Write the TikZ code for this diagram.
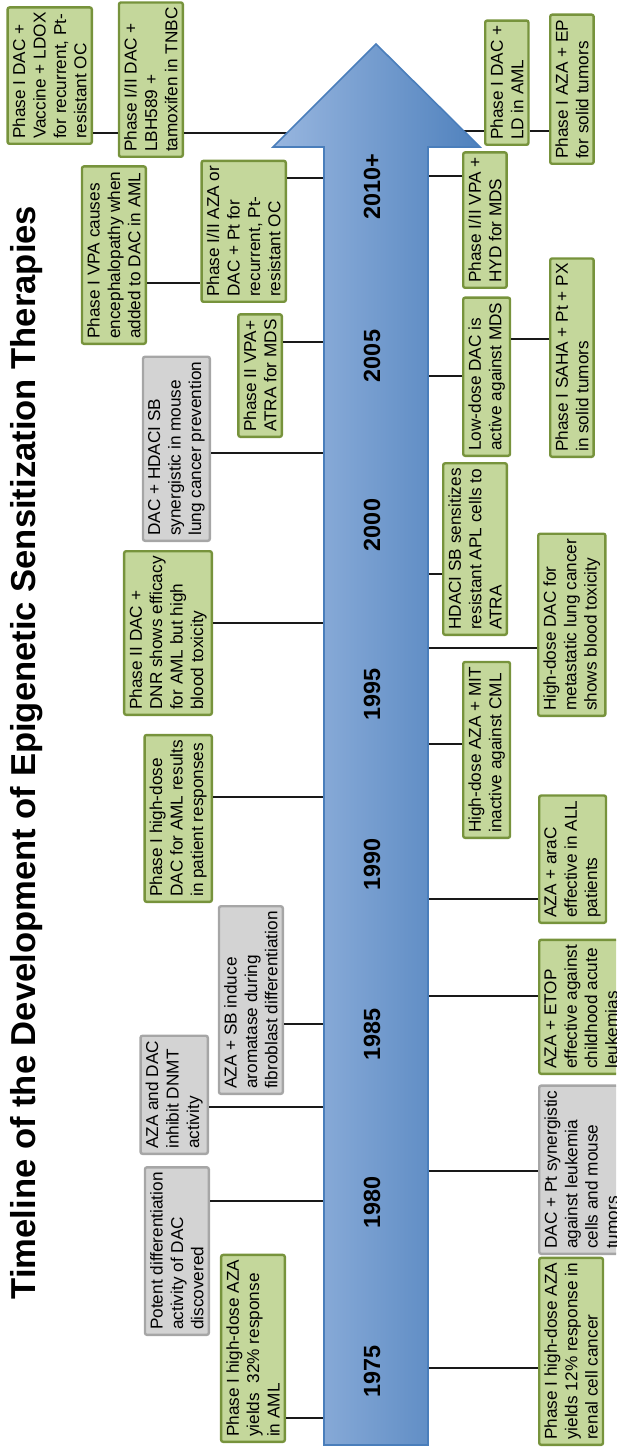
\documentclass[tikz,border=0pt]{standalone}
\usepackage{fontspec}
\setmainfont{Liberation Sans}
\definecolor{trialfill}{HTML}{C4D79B}
\definecolor{trialline}{HTML}{77933C}
\definecolor{labfill}{HTML}{D3D3D3}
\definecolor{labline}{HTML}{A6A6A6}
\definecolor{axislight}{HTML}{98B6DF}
\definecolor{axisdark}{HTML}{4F81BD}
\definecolor{axisline}{HTML}{4A7EBB}

\begin{document}
\begin{tikzpicture}[
            x=5pt, y=-5pt,
            clinical/.style={rectangle, draw=trialline, fill=trialfill, line width=1.2pt, rounded corners=1pt, rotate=90, align=left, inner xsep=2.5pt, inner ysep=2.6pt, font=\fontsize{8.6}{10.2}\selectfont},
            preclinical/.style={clinical, draw=labline, fill=labfill},
            before/.style={anchor=south west},
            after/.style={anchor=north west},
            year/.style={rotate=90, font=\fontsize{11.7}{14}\selectfont\bfseries},
            title/.style={rotate=90, anchor=base, font=\fontsize{17.3}{20}\selectfont\bfseries},
            link/.style={line width=1.25pt, color=black!90}
        ]
        \useasboundingbox (0,0) rectangle (61.6,144.9);
        \clip (0,0) rectangle (61.6,144.9);

        % ==========================================
        % TITLE
        % ==========================================
        \node[title] (maintitle) at (3.5,75.25) {Timeline of the Development of Epigenetic Sensitization Therapies};

        % ==========================================
        % LEFT SIDE OF THE TIMELINE
        % ==========================================
        \node[clinical, before] (l1) at (9.3,14.5) {Phase I DAC +\\Vaccine + LDOX\\for recurrent, Pt-\\resistant OC};
        \node[clinical, before] (l2) at (18.4,15.8) {Phase I/II DAC +\\LBH589 +\\tamoxifen in TNBC};
        \node[clinical, before] (l3) at (14.7,34.5) {Phase I VPA causes\\encephalopathy when\\added to DAC in AML};
        \node[clinical, before] (l4) at (28.7,30.3) {Phase I/II AZA or\\DAC + Pt for\\recurrent, Pt-\\resistant OC};
        \node[clinical, before] (l5) at (28.3,43.8) {Phase II VPA+\\ATRA for MDS};
        \node[preclinical, before] (l6) at (21.1,54.2) {DAC + HDACI SB\\synergistic in mouse\\lung cancer prevention};
        \node[clinical, before] (l7) at (21.3,71.6) {Phase II DAC +\\DNR shows efficacy\\for AML but high\\blood toxicity};
        \node[clinical, before] (l8) at (21.3,90.3) {Phase I high-dose\\DAC for AML results\\in patient responses};
        \node[preclinical, before] (l9) at (28.4,109.5) {AZA + SB induce\\aromatase during\\fibroblast differentiation};
        \node[preclinical, before] (l10) at (20.9,115.5) {AZA and DAC\\inhibit DNMT\\activity};
        \node[preclinical, before] (l11) at (21.0,133.6) {Potent differentiation\\activity of DAC\\discovered};
        \node[clinical, before] (l12) at (28.6,144.3) {Phase I high-dose AZA\\yields\ \ 32\% response\\in AML};

        % ==========================================
        % RIGHT SIDE OF THE TIMELINE
        % ==========================================
        \node[clinical, after] (r1) at (48.4,14.6) {Phase I DAC +\\LD in AML};
        \node[clinical, after] (r2) at (54.9,16.5) {Phase I AZA + EP\\for solid tumors};
        \node[clinical, after] (r3) at (46.2,28.9) {Phase I/II VPA +\\HYD for MDS};
        \node[clinical, after] (r4) at (46.2,45.7) {Low-dose DAC is\\active against MDS};
        \node[clinical, after] (r5) at (54.9,45.8) {Phase I SAHA + Pt + PX\\in solid tumors};
        \node[clinical, after] (r6) at (44.2,63.6) {HDACI SB sensitizes\\resistant APL cells to\\ATRA};
        \node[clinical, after] (r7) at (53.7,71.7) {High-dose DAC for\\metastatic lung cancer\\shows blood toxicity};
        \node[clinical, after] (r8) at (46.2,83.9) {High-dose AZA + MIT\\inactive against CML};
        \node[clinical, after] (r9) at (53.8,92.4) {AZA + araC\\effective in ALL\\patients};
        \node[clinical, after] (r10) at (53.8,107.5) {AZA + ETOP\\effective against\\childhood acute\\leukemias};
        \node[preclinical, after] (r11) at (53.8,125.5) {DAC + Pt synergistic\\against leukemia\\cells and mouse\\tumors};
        \node[clinical, after] (r12) at (53.8,144.6) {Phase I high-dose AZA\\yields 12\% response in\\renal cell cancer};

        % ==========================================
        % TICKS ON THE AXIS (drawn under the arrow)
        % ==========================================
        \coordinate (lt1) at (37.6,13.3);
        \coordinate (lt2) at (37.6,17.8);
        \coordinate (lt3) at (37.6,28.3);
        \coordinate (lt4) at (37.6,34.2);
        \coordinate (lt5) at (37.6,45.3);
        \coordinate (lt6) at (37.6,62.3);
        \coordinate (lt7) at (37.6,79.7);
        \coordinate (lt8) at (37.6,102.4);
        \coordinate (lt9) at (37.6,110.7);
        \coordinate (lt10) at (37.6,120.1);
        \coordinate (lt11) at (37.6,141.8);

        \coordinate (rt1) at (37.6,13.1);
        \coordinate (rt2) at (37.6,17.6);
        \coordinate (rt3) at (37.6,33.9);
        \coordinate (rt4) at (37.6,37.6);
        \coordinate (rt5) at (37.6,57.4);
        \coordinate (rt6) at (37.6,64.8);
        \coordinate (rt7) at (37.6,74.4);
        \coordinate (rt8) at (37.6,89.9);
        \coordinate (rt9) at (37.6,99.6);
        \coordinate (rt10) at (37.6,117.1);
        \coordinate (rt11) at (37.6,136.8);

        \draw[link] (lt1 -| l1.south) -- (lt1 -| l2.north);
        \draw[link] (lt1 -| l2.south) -- (lt1);
        \draw[link] (lt2 -| l4.south) -- (lt2);
        \draw[link] (lt3 -| l3.south) -- (lt3 -| l4.north);
        \draw[link] (lt4 -| l5.south) -- (lt4);
        \draw[link] (lt5 -| l6.south) -- (lt5);
        \draw[link] (lt6 -| l7.south) -- (lt6);
        \draw[link] (lt7 -| l8.south) -- (lt7);
        \draw[link] (lt8 -| l9.south) -- (lt8);
        \draw[link] (lt9 -| l10.south) -- (lt9);
        \draw[link] (lt10 -| l11.south) -- (lt10);
        \draw[link] (lt11 -| l12.south) -- (lt11);

        \draw[link] (rt1) -- (rt1 -| r1.north);
        \draw[link] (rt1 -| r1.south) -- (rt1 -| r2.north);
        \draw[link] (rt2) -- (rt2 -| r3.north);
        \draw[link] (rt3 -| r4.south) -- (rt3 -| r5.north);
        \draw[link] (rt4) -- (rt4 -| r4.north);
        \draw[link] (rt5) -- (rt5 -| r6.north);
        \draw[link] (rt6) -- (rt6 -| r7.north);
        \draw[link] (rt7) -- (rt7 -| r8.north);
        \draw[link] (rt8) -- (rt8 -| r9.north);
        \draw[link] (rt9) -- (rt9 -| r10.north);
        \draw[link] (rt10) -- (rt10 -| r11.north);
        \draw[link] (rt11) -- (rt11 -| r12.north);

        % ==========================================
        % ARROW AND YEARS
        % ==========================================
        \draw[draw=axisline, line width=0.8pt, left color=axislight, right color=axisdark]
            (32.4,144.5) -- (32.4,14.7) -- (27.3,14.7) -- (37.6,4.4) -- (48.0,14.7) -- (42.8,14.7) -- (42.8,144.5) -- cycle;

        \node[year] (y1975) at (37.2,137.1) {1975};
        \node[year] (y1980) at (37.2,120.2) {1980};
        \node[year] (y1985) at (37.2,103.4) {1985};
        \node[year] (y1990) at (37.2,86.4) {1990};
        \node[year] (y1995) at (37.2,69.4) {1995};
        \node[year] (y2000) at (37.2,52.5) {2000};
        \node[year] (y2005) at (37.2,35.6) {2005};
        \node[year] (y2010) at (37.2,18.7) {2010+};

        \end{tikzpicture}
\end{document}
